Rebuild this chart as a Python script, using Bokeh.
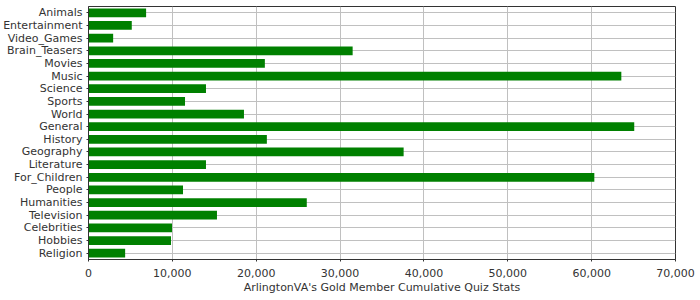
from bokeh.plotting import figure
from bokeh.models import Range1d, FactorRange, FixedTicker, NumeralTickFormatter, ColumnDataSource
from bokeh.embed import file_html
from bokeh.resources import INLINE

categories = ["Animals", "Entertainment", "Video_Games", "Brain_Teasers", "Movies", "Music",
              "Science", "Sports", "World", "General", "History", "Geography", "Literature",
              "For_Children", "People", "Humanities", "Television", "Celebrities", "Hobbies", "Religion"]
values = [6870, 5160, 2940, 31500, 21030, 63540, 14010, 11510, 18540, 65080, 21270, 37580,
          14010, 60320, 11270, 26030, 15320, 9960, 9840, 4370]
x_ticks = [0, 10000, 20000, 30000, 40000, 50000, 60000, 70000]
x_label = "ArlingtonVA's Gold Member Cumulative Quiz Stats"

src = ColumnDataSource(dict(cat=categories, val=values))

p = figure(width=700, height=300, output_backend="svg", toolbar_location=None,
           y_range=FactorRange(factors=list(reversed(categories)), range_padding=0),
           x_range=Range1d(0, 70000),
           min_border_left=87, min_border_right=25, min_border_top=6, min_border_bottom=41)

p.hbar(y="cat", right="val", left=0, height=0.69, source=src,
       fill_color="#008000", line_color=None)

p.background_fill_color = "white"
p.border_fill_color = "white"
p.outline_line_color = "#333333"
p.outline_line_width = 1

font = "DejaVu Sans"
for ax in (p.xaxis[0], p.yaxis[0]):
    ax.axis_line_color = "#333333"
    ax.major_tick_line_color = "#333333"
    ax.major_tick_out = 2
    ax.major_tick_in = 0
    ax.minor_tick_line_color = None
    ax.major_label_text_font = font
    ax.major_label_text_font_size = "11px"
    ax.major_label_text_color = "#333333"

p.xaxis.ticker = FixedTicker(ticks=x_ticks)
p.xaxis.formatter = NumeralTickFormatter(format="0,0")
p.xaxis.axis_label = x_label
p.xaxis.axis_label_text_font = font
p.xaxis.axis_label_text_font_size = "11px"
p.xaxis.axis_label_text_font_style = "normal"
p.xaxis.axis_label_text_color = "#333333"
p.xaxis.axis_label_standoff = 1
p.xaxis.major_label_standoff = 7
p.yaxis.major_label_standoff = 4

p.xgrid.grid_line_color = "#c0c0c0"
p.ygrid.grid_line_color = "#c0c0c0"
p.xgrid.grid_line_width = 1
p.ygrid.grid_line_width = 1

open("out.html", "w").write(file_html(p, INLINE))
